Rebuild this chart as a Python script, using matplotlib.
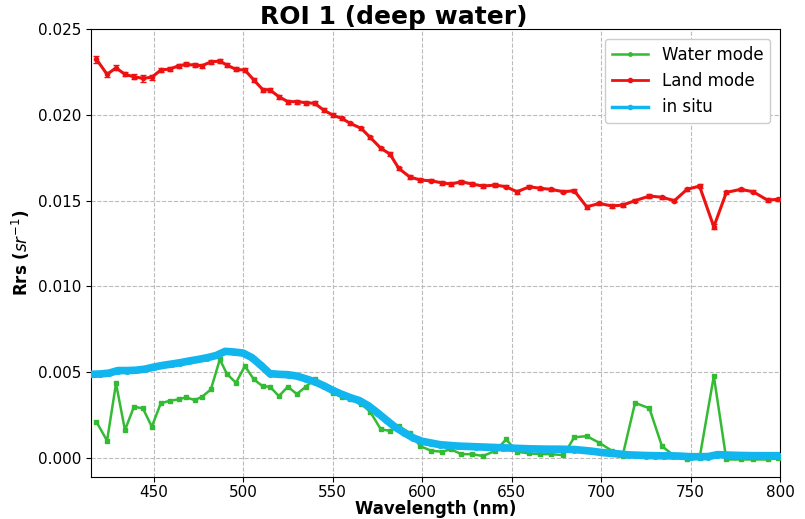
import matplotlib
matplotlib.use("Agg")
import matplotlib.pyplot as plt
from matplotlib.lines import Line2D


# BAND CENTRES (nm)
wavelength = [
    418, 424, 429, 434, 439, 444, 449, 454, 459, 464,
    468, 473, 477, 482, 487, 491, 496, 501, 506, 511,
    515, 520, 525, 530, 535, 540, 545, 550, 555, 560,
    566, 571, 577, 582, 587, 593, 599, 605, 611, 616,
    622, 628, 634, 641, 647, 653, 660, 666, 672, 679,
    685, 692, 699, 706, 712, 719, 727, 734, 741, 748,
    755, 763, 770, 778, 785, 793, 799
]

# WATER MODE Rrs
water_mode = [
    0.00212, 0.00101, 0.00435, 0.00163, 0.00299, 0.00290, 0.00183, 0.00319, 0.00334, 0.00342,
    0.00354, 0.00338, 0.00357, 0.00400, 0.00575, 0.00490, 0.00439, 0.00536, 0.00459, 0.00418,
    0.00416, 0.00361, 0.00416, 0.00373, 0.00416, 0.00459, 0.00420, 0.00380, 0.00357, 0.00342,
    0.00315, 0.00270, 0.00167, 0.00159, 0.00186, 0.00147, 0.00070, 0.00043, 0.00037, 0.00051,
    0.00023, 0.00023, 0.00012, 0.00043, 0.00109, 0.00037, 0.00027, 0.00023, 0.00023, 0.00017,
    0.00121, 0.00128, 0.00089, 0.00043, 0.00012, 0.00322, 0.00290, 0.00070, 0.00012, -0.00008,
    -0.00002, 0.00478, -0.00008, -0.00008, -0.00008, -0.00008, -0.00002
]
water_err = [0.00005] * len(water_mode)

# LAND MODE Rrs
land_mode = [
    0.02325, 0.02236, 0.02274, 0.02236, 0.02222, 0.02213, 0.02219, 0.02261, 0.02267, 0.02286,
    0.02294, 0.02290, 0.02286, 0.02309, 0.02313, 0.02290, 0.02265, 0.02261, 0.02203, 0.02147,
    0.02145, 0.02106, 0.02077, 0.02077, 0.02071, 0.02067, 0.02028, 0.01999, 0.01980, 0.01950,
    0.01921, 0.01869, 0.01805, 0.01772, 0.01688, 0.01639, 0.01620, 0.01616, 0.01604, 0.01597,
    0.01610, 0.01597, 0.01585, 0.01591, 0.01581, 0.01552, 0.01581, 0.01572, 0.01566, 0.01552,
    0.01558, 0.01464, 0.01484, 0.01469, 0.01474, 0.01500, 0.01527, 0.01520, 0.01500, 0.01566,
    0.01585, 0.01348, 0.01548, 0.01566, 0.01552, 0.01503, 0.01508
]
land_err = [
    0.00020, 0.00015, 0.00015, 0.00012, 0.00015, 0.00020, 0.00015, 0.00012, 0.00012, 0.00012,
    0.00012, 0.00012, 0.00012, 0.00012, 0.00012, 0.00012, 0.00012, 0.00012, 0.00012, 0.00012,
    0.00012, 0.00012, 0.00012, 0.00012, 0.00012, 0.00012, 0.00010, 0.00010, 0.00010, 0.00010,
    0.00010, 0.00010, 0.00010, 0.00010, 0.00010, 0.00010, 0.00010, 0.00010, 0.00010, 0.00012,
    0.00010, 0.00010, 0.00010, 0.00010, 0.00010, 0.00012, 0.00010, 0.00010, 0.00010, 0.00010,
    0.00010, 0.00012, 0.00010, 0.00010, 0.00010, 0.00010, 0.00010, 0.00010, 0.00010, 0.00010,
    0.00010, 0.00015, 0.00010, 0.00010, 0.00010, 0.00010, 0.00010
]

# IN SITU Rrs
insitu_wl = list(range(415, 801, 5))
insitu = [
    0.00488, 0.00490, 0.00495, 0.00510, 0.00510, 0.00512, 0.00518, 0.00530, 0.00540, 0.00548,
    0.00556, 0.00566, 0.00575, 0.00585, 0.00598, 0.00622, 0.00618, 0.00612, 0.00585, 0.00540,
    0.00492, 0.00488, 0.00486, 0.00478, 0.00462, 0.00445, 0.00422, 0.00395, 0.00372, 0.00352,
    0.00335, 0.00305, 0.00265, 0.00222, 0.00180, 0.00148, 0.00118, 0.00098, 0.00088, 0.00078,
    0.00074, 0.00070, 0.00068, 0.00066, 0.00064, 0.00062, 0.00060, 0.00058, 0.00056, 0.00054,
    0.00053, 0.00052, 0.00052, 0.00051, 0.00050, 0.00045, 0.00040, 0.00033, 0.00028, 0.00024,
    0.00019, 0.00017, 0.00015, 0.00014, 0.00013, 0.00013, 0.00011, 0.00008, 0.00008, 0.00009,
    0.00020, 0.00018, 0.00016, 0.00015, 0.00014, 0.00014, 0.00014, 0.00014
]

GREEN = "#33bb33"
RED = "#ee1111"
BLUE = "#12b6ee"

fig = plt.figure(figsize=(8.05, 5.19), dpi=100)
ax = fig.add_axes([0.113, 0.081, 0.856, 0.863])

# GRID
ax.grid(True, linestyle="--", color="#bbbbbb", linewidth=0.8)
ax.set_axisbelow(True)

# CURVES
ax.errorbar(
    wavelength, water_mode, yerr=water_err,
    color=GREEN, linewidth=1.8, marker="s", markersize=2.5,
    capsize=1.5, elinewidth=1, zorder=3
)

ax.plot(
    insitu_wl, insitu,
    color=BLUE, linewidth=5.5, marker="o", markersize=4,
    solid_capstyle="round", zorder=4
)

ax.errorbar(
    wavelength, land_mode, yerr=land_err,
    color=RED, linewidth=2.2, marker="o", markersize=3,
    capsize=2.5, elinewidth=1.2, zorder=5
)

# LIMITS
ax.set_xlim(415, 800)
ax.set_ylim(-0.0011, 0.025)
ax.set_yticks([0.0, 0.005, 0.010, 0.015, 0.020, 0.025])
ax.set_yticklabels(["0.000", "0.005", "0.010", "0.015", "0.020", "0.025"])
ax.tick_params(labelsize=11)
ax.tick_params(axis="x", pad=2)

# LABELS
ax.set_xlabel("Wavelength (nm)", fontsize=12, fontweight="bold", labelpad=0)
ax.set_ylabel("Rrs ($sr^{-1}$)", fontsize=12, fontweight="bold")
ax.set_title("ROI 1 (deep water)", fontsize=18, fontweight="bold", pad=3, x=0.44)

# LEGEND
handles = [
    Line2D([], [], color=GREEN, linewidth=1.8, marker="o", markersize=2.5),
    Line2D([], [], color=RED, linewidth=2, marker="o", markersize=3),
    Line2D([], [], color=BLUE, linewidth=2.5, marker="o", markersize=3),
]
ax.legend(
    handles, ["Water mode", "Land mode", "in situ"],
    loc="upper right", fontsize=12, framealpha=1,
    borderaxespad=0.6, handlelength=2.2
)

plt.savefig("out.png", dpi=100)
plt.close()
